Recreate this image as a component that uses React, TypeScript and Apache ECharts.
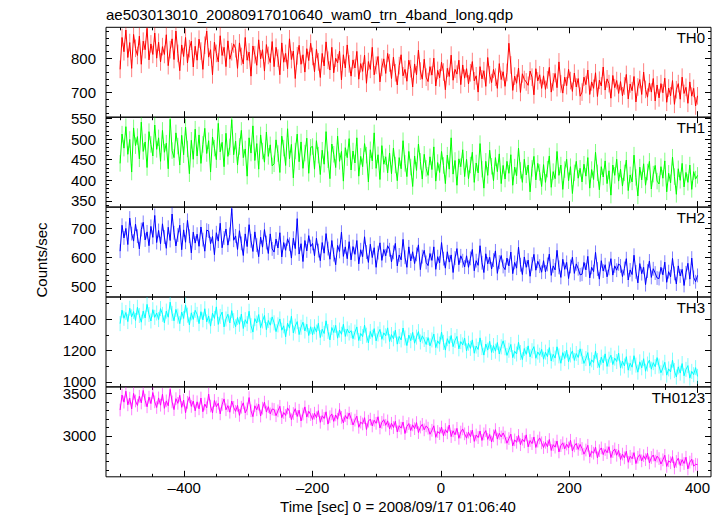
import React, { useEffect, useRef } from "react";
import * as echarts from "echarts";

const TITLE = "ae503013010_20080917010640_wam0_trn_4band_long.qdp";
const X_NAME = "Time [sec] 0 = 2008/09/17 01:06:40";
const Y_NAME = "Counts/sec";
const TIME_START = -500;
const TIME_STEP = 3;
const X_MIN = -522;
const X_MAX = 421;
const X_MAJOR = [-400, -200, 0, 200, 400];
const X_MINOR = [-500, -450, -350, -300, -250, -150, -100, -50, 50, 100, 150, 250, 300, 350];

const BANDS = ["TH0", "TH1", "TH2", "TH3", "TH0123"];
const COLORS = ["#ff0000", "#00ff00", "#0000ff", "#00ffff", "#ff00ff"];
// estimated size of the (lighter) error bars, counts/sec
const ERRORS = [26, 20, 24, 48, 75];
const Y_RANGES = [[627, 892], [335, 553], [463, 775], [968, 1542], [2517, 3578]];
const Y_MAJOR = [[700, 800], [350, 400, 450, 500, 550], [500, 600, 700], [1000, 1200, 1400], [3000, 3500]];
const Y_MINOR = [
  [640, 660, 680, 720, 740, 760, 780, 820, 840, 860, 880],
  [340, 360, 370, 380, 390, 410, 420, 430, 440, 460, 470, 480, 490, 510, 520, 530, 540],
  [480, 520, 540, 560, 580, 620, 640, 660, 680, 720, 740, 760],
  [1100, 1300, 1500],
  [2600, 2700, 2800, 2900, 3100, 3200, 3300, 3400],
];

const TH0 = [
  768, 862, 820, 884, 803, 847, 771, 871, 830, 809, 866, 783, 851, 826, 889, 796, 843, 812, 875, 801,
  848, 790, 835, 812, 870, 779, 826, 858, 797, 881, 815, 764, 840, 806, 862, 787, 829, 851, 775, 836,
  795, 857, 822, 768, 839, 881, 804, 826, 752, 848, 815, 790, 867, 809, 833, 776, 852, 798, 820, 843,
  829, 771, 846, 806, 784, 862, 795, 819, 748, 837, 811, 780, 855, 799, 826, 763, 841, 809, 788, 850,
  776, 833, 801, 752, 846, 789, 815, 770, 858, 797, 822, 741, 808, 839, 783, 811, 760, 829, 794, 845,
  806, 761, 827, 790, 744, 815, 778, 849, 795, 766, 833, 758, 801, 787, 822, 737, 811, 772, 840, 784,
  748, 796, 772, 821, 739, 785, 762, 810, 727, 791, 768, 833, 752, 780, 806, 731, 774, 799, 756, 815,
  787, 741, 804, 758, 722, 779, 811, 749, 768, 733, 795, 770, 716, 784, 752, 825, 763, 739, 798, 745,
  732, 776, 751, 801, 719, 765, 743, 789, 760, 708, 771, 747, 810, 736, 768, 754, 795, 723, 781, 742,
  770, 725, 758, 791, 734, 749, 701, 776, 740, 764, 718, 803, 752, 729, 768, 745, 712, 785, 738, 761,
  718, 759, 845, 781, 706, 748, 727, 772, 700, 755, 738, 731, 721, 763, 745, 693, 770, 734, 752, 712,
  749, 709, 737, 774, 701, 731, 756, 714, 790, 725, 698, 745, 720, 768, 735, 703, 757, 716, 741, 689,
  701, 745, 723, 766, 694, 731, 712, 758, 688, 736, 719, 775, 707, 740, 726, 683, 750, 714, 735, 697,
  732, 690, 719, 753, 681, 725, 705, 747, 672, 716, 738, 694, 760, 709, 686, 728, 701, 741, 675, 722,
  684, 726, 699, 742, 671, 713, 690, 735, 665, 708, 726, 680, 745, 697, 715, 668, 731, 689, 712, 660,
  690,
];
const TH1 = [
  441, 512, 478, 530, 463, 499, 420, 527, 484, 506, 452, 541, 470, 493, 431, 518, 487, 459, 534, 475,
  503, 446, 521, 468, 490, 428, 548, 472, 455, 515, 483, 437, 509, 462, 529, 476, 416, 497, 451, 524,
  459, 510, 441, 487, 526, 465, 496, 420, 505, 478, 450, 538, 469, 492, 433, 514, 458, 481, 547, 462,
  495, 437, 482, 521, 455, 476, 410, 503, 466, 532, 448, 489, 427, 510, 471, 444, 517, 458, 486, 435,
  440, 498, 465, 419, 507, 478, 436, 525, 452, 487, 406, 471, 512, 445, 493, 429, 466, 502, 417, 480,
  482, 427, 496, 461, 414, 473, 439, 518, 450, 404, 488, 463, 431, 507, 446, 470, 398, 479, 455, 501,
  425, 471, 442, 503, 410, 458, 433, 489, 461, 396, 474, 447, 515, 429, 462, 402, 484, 439, 457, 418,
  466, 416, 478, 437, 399, 455, 428, 496, 441, 409, 470, 432, 385, 459, 424, 488, 446, 403, 463, 429,
  412, 457, 426, 481, 398, 443, 419, 470, 436, 392, 461, 427, 503, 415, 448, 388, 452, 433, 474, 409,
  451, 404, 437, 468, 395, 442, 418, 489, 427, 381, 446, 412, 473, 434, 399, 455, 421, 464, 392, 436,
  403, 446, 417, 462, 388, 432, 411, 478, 424, 395, 451, 413, 437, 372, 429, 458, 401, 441, 419, 385,
  438, 395, 427, 459, 383, 421, 404, 470, 412, 437, 378, 426, 451, 399, 433, 368, 418, 446, 405, 429,
  396, 439, 410, 455, 381, 426, 402, 468, 418, 377, 433, 408, 447, 392, 423, 364, 437, 412, 451, 398,
  427, 386, 418, 449, 375, 413, 396, 461, 407, 362, 432, 401, 440, 388, 420, 446, 379, 415, 436, 398,
  391, 433, 405, 447, 372, 417, 394, 456, 409, 366, 428, 400, 441, 384, 419, 395, 437, 378, 421, 403,
  412,
];
const TH2 = [
  622, 712, 668, 701, 645, 737, 683, 657, 716, 674, 630, 697, 722, 661, 689, 641, 708, 670, 746, 652,
  694, 648, 717, 671, 632, 705, 659, 751, 686, 640, 678, 712, 627, 696, 653, 729, 674, 616, 688, 650,
  681, 639, 706, 662, 622, 695, 692, 648, 673, 610, 686, 657, 719, 634, 668, 699, 643, 680, 770, 660,
  675, 628, 693, 649, 607, 682, 638, 714, 658, 621, 689, 643, 603, 671, 636, 697, 652, 614, 682, 630,
  619, 664, 633, 686, 602, 652, 625, 665, 646, 598, 667, 631, 735, 612, 648, 586, 659, 623, 676, 638,
  649, 606, 667, 624, 589, 652, 615, 683, 631, 594, 659, 610, 575, 642, 621, 688, 604, 637, 596, 655,
  592, 638, 611, 659, 578, 627, 603, 672, 619, 583, 646, 600, 634, 566, 617, 651, 590, 628, 606, 641,
  627, 585, 618, 649, 571, 609, 592, 663, 601, 566, 637, 588, 620, 579, 611, 644, 558, 603, 625, 583,
  572, 614, 590, 637, 559, 603, 581, 652, 596, 563, 620, 584, 609, 548, 598, 631, 575, 606, 589, 567,
  606, 566, 597, 628, 554, 589, 573, 641, 582, 548, 613, 578, 601, 560, 591, 623, 545, 584, 607, 569,
  558, 598, 571, 619, 544, 583, 563, 636, 575, 541, 602, 566, 591, 535, 578, 611, 556, 587, 570, 549,
  589, 550, 576, 612, 538, 571, 557, 625, 566, 531, 594, 559, 583, 527, 569, 601, 545, 578, 561, 540,
  542, 583, 557, 604, 529, 566, 551, 618, 560, 525, 589, 553, 575, 533, 562, 596, 539, 571, 556, 578,
  571, 534, 562, 596, 522, 557, 541, 608, 550, 512, 579, 544, 566, 506, 553, 588, 531, 561, 546, 529,
  527, 566, 540, 584, 514, 551, 533, 597, 545, 508, 571, 536, 559, 503, 547, 580, 525, 598, 531, 516,
  538,
];
const TH3 = [
  1372, 1458, 1406, 1443, 1385, 1470, 1415, 1449, 1392, 1476, 1424, 1381, 1452, 1408, 1495, 1430, 1389, 1461, 1412, 1440,
  1398, 1468, 1431, 1377, 1452, 1413, 1509, 1437, 1390, 1463, 1420, 1372, 1446, 1405, 1491, 1426, 1364, 1441, 1399, 1457,
  1431, 1372, 1448, 1396, 1467, 1383, 1421, 1356, 1439, 1405, 1479, 1367, 1418, 1446, 1351, 1402, 1432, 1376, 1455, 1391,
  1352, 1411, 1368, 1433, 1341, 1397, 1372, 1451, 1359, 1318, 1404, 1376, 1430, 1346, 1389, 1424, 1333, 1392, 1362, 1415,
  1377, 1321, 1364, 1402, 1330, 1358, 1288, 1375, 1343, 1419, 1312, 1356, 1385, 1302, 1349, 1381, 1325, 1368, 1296, 1352,
  1301, 1352, 1318, 1374, 1283, 1336, 1309, 1390, 1322, 1268, 1347, 1315, 1361, 1279, 1331, 1304, 1368, 1290, 1338, 1312,
  1327, 1276, 1318, 1351, 1264, 1309, 1289, 1362, 1298, 1249, 1322, 1285, 1340, 1262, 1306, 1335, 1272, 1313, 1294, 1345,
  1258, 1302, 1275, 1330, 1241, 1290, 1268, 1344, 1281, 1232, 1299, 1263, 1316, 1247, 1286, 1321, 1255, 1294, 1271, 1239,
  1283, 1230, 1268, 1305, 1219, 1262, 1241, 1318, 1252, 1203, 1276, 1244, 1296, 1225, 1265, 1290, 1211, 1257, 1236, 1279,
  1198, 1247, 1214, 1268, 1183, 1229, 1207, 1281, 1219, 1171, 1242, 1203, 1259, 1188, 1232, 1196, 1251, 1178, 1224, 1262,
  1218, 1169, 1202, 1239, 1155, 1196, 1178, 1253, 1187, 1142, 1213, 1176, 1230, 1160, 1199, 1225, 1151, 1191, 1170, 1208,
  1145, 1190, 1161, 1219, 1133, 1176, 1152, 1224, 1166, 1119, 1187, 1149, 1203, 1128, 1172, 1198, 1137, 1181, 1156, 1211,
  1163, 1118, 1149, 1187, 1103, 1141, 1124, 1196, 1136, 1092, 1158, 1121, 1179, 1099, 1145, 1170, 1111, 1152, 1130, 1184,
  1088, 1133, 1102, 1161, 1075, 1119, 1094, 1167, 1107, 1062, 1128, 1090, 1148, 1068, 1114, 1139, 1081, 1123, 1097, 1155,
  1101, 1058, 1089, 1125, 1043, 1083, 1064, 1139, 1072, 1031, 1096, 1056, 1117, 1039, 1080, 1104, 1024, 1067, 1046, 1091,
  1035,
];
const TH0123 = [
  3305, 3482, 3398, 3527, 3366, 3445, 3318, 3501, 3412, 3359, 3468, 3389, 3536, 3420, 3343, 3457, 3381, 3512, 3402, 3335,
  3448, 3362, 3491, 3325, 3413, 3355, 3549, 3401, 3310, 3439, 3384, 3478, 3337, 3422, 3272, 3396, 3461, 3348, 3411, 3296,
  3402, 3319, 3447, 3285, 3376, 3331, 3494, 3352, 3271, 3418, 3343, 3385, 3260, 3370, 3436, 3308, 3357, 3279, 3411, 3336,
  3289, 3361, 3242, 3338, 3390, 3271, 3319, 3452, 3296, 3227, 3355, 3308, 3374, 3234, 3327, 3398, 3281, 3345, 3259, 3317,
  3312, 3238, 3295, 3349, 3215, 3276, 3241, 3330, 3288, 3190, 3264, 3321, 3229, 3303, 3176, 3258, 3342, 3222, 3291, 3251,
  3193, 3268, 3214, 3297, 3160, 3238, 3205, 3284, 3139, 3226, 3259, 3171, 3247, 3196, 3312, 3218, 3152, 3240, 3201, 3270,
  3204, 3128, 3186, 3233, 3101, 3162, 3141, 3215, 3075, 3174, 3198, 3117, 3185, 3148, 3226, 3093, 3160, 3191, 3125, 3177,
  3082, 3149, 3098, 3172, 3047, 3120, 3091, 3163, 3028, 3111, 3145, 3063, 3130, 3085, 3157, 3039, 3104, 3136, 3071, 3118,
  3091, 3019, 3066, 3119, 2983, 3052, 3027, 3104, 3001, 3075, 3036, 3128, 2992, 3060, 3013, 3089, 2971, 3045, 3082, 3024,
  2973, 3044, 2991, 3068, 2935, 3011, 2980, 3057, 2946, 3023, 3062, 2958, 3017, 2928, 3001, 3074, 2962, 3030, 2987, 3035,
  2985, 2913, 2968, 3020, 2882, 2953, 2924, 3005, 2896, 2961, 2930, 3012, 2871, 2945, 2909, 2987, 2863, 2938, 2976, 2918,
  2862, 2924, 2871, 2957, 2828, 2896, 2867, 2939, 2810, 2885, 2918, 2846, 2903, 2857, 2948, 2822, 2882, 2911, 2840, 2899,
  2851, 2784, 2833, 2889, 2752, 2818, 2796, 2867, 2740, 2825, 2858, 2779, 2839, 2801, 2872, 2744, 2815, 2846, 2771, 2829,
  2721, 2785, 2740, 2818, 2688, 2759, 2730, 2802, 2673, 2748, 2779, 2705, 2766, 2719, 2796, 2681, 2745, 2774, 2702, 2761,
  2732, 2668, 2717, 2771, 2639, 2706, 2683, 2755, 2622, 2698, 2737, 2651, 2719, 2674, 2748, 2610, 2690, 2725, 2643, 2665,
  2660,
];
const SERIES = [TH0, TH1, TH2, TH3, TH0123];

const FONT = "'Liberation Sans', Arial, Helvetica, sans-serif";
const W = 724;
const H = 516;
const LEFT = 106;
const RIGHT = 711;
const TOP = 27.3;
const PANEL_H = 89.9;

export default function App() {
  const ref = useRef<HTMLDivElement>(null);
  useEffect(() => {
    if (!ref.current) return;
    const chart = echarts.init(ref.current, undefined, { renderer: "svg" });
    const n = BANDS.length;
    const grids: any[] = [];
    const xAxes: any[] = [];
    const yAxes: any[] = [];
    const series: any[] = [];
    const graphics: any[] = [];
    const tickStyle = { color: "#000", width: 1 };
    for (let i = 0; i < n; i++) {
      grids.push({
        left: LEFT,
        width: RIGHT - LEFT,
        top: TOP + i * PANEL_H,
        height: PANEL_H,
        show: true,
        borderColor: "#000",
        borderWidth: 1,
        backgroundColor: "transparent",
      });
      const isLast = i === n - 1;
      const xBase = {
        type: "value",
        gridIndex: i,
        min: X_MIN,
        max: X_MAX,
        splitLine: { show: false },
        axisLine: { show: false, onZero: false },
      };
      xAxes.push({
        ...xBase,
        position: "bottom",
        axisTick: { show: true, inside: true, length: 6, lineStyle: tickStyle, customValues: X_MAJOR },
        axisLabel: {
          show: isLast,
          customValues: X_MAJOR,
          color: "#000",
          fontSize: 15,
          fontFamily: FONT,
          margin: 3,
          formatter: (v: number) => (v < 0 ? "\u2013" + Math.abs(v) : String(v)),
        },
      });
      xAxes.push({
        ...xBase,
        position: "bottom",
        axisTick: { show: true, inside: true, length: 3, lineStyle: tickStyle, customValues: X_MINOR },
        axisLabel: { show: false },
      });
      xAxes.push({
        ...xBase,
        position: "top",
        axisTick: { show: true, inside: true, length: 6, lineStyle: tickStyle, customValues: X_MAJOR },
        axisLabel: { show: false },
      });
      xAxes.push({
        ...xBase,
        position: "top",
        axisTick: { show: true, inside: true, length: 3, lineStyle: tickStyle, customValues: X_MINOR },
        axisLabel: { show: false },
      });
      const yBase = {
        type: "value",
        gridIndex: i,
        min: Y_RANGES[i][0],
        max: Y_RANGES[i][1],
        splitLine: { show: false },
        axisLine: { show: false, onZero: false },
      };
      yAxes.push({
        ...yBase,
        position: "left",
        axisTick: { show: true, inside: true, length: 6, lineStyle: tickStyle, customValues: Y_MAJOR[i] },
        axisLabel: {
          show: true,
          customValues: Y_MAJOR[i],
          color: "#000",
          fontSize: 15,
          fontFamily: FONT,
          margin: 10,
          formatter: (v: number) => String(v),
        },
      });
      yAxes.push({
        ...yBase,
        position: "left",
        axisTick: { show: true, inside: true, length: 3, lineStyle: tickStyle, customValues: Y_MINOR[i] },
        axisLabel: { show: false },
      });
      yAxes.push({
        ...yBase,
        position: "right",
        axisTick: { show: true, inside: true, length: 6, lineStyle: tickStyle, customValues: Y_MAJOR[i] },
        axisLabel: { show: false },
      });
      yAxes.push({
        ...yBase,
        position: "right",
        axisTick: { show: true, inside: true, length: 3, lineStyle: tickStyle, customValues: Y_MINOR[i] },
        axisLabel: { show: false },
      });
      const vals = SERIES[i];
      const color = COLORS[i];
      series.push({
        type: "custom",
        name: BANDS[i] + " err",
        xAxisIndex: i * 4,
        yAxisIndex: i * 4,
        clip: true,
        silent: true,
        data: vals.map((v, k) => [TIME_START + k * TIME_STEP, v, ERRORS[i]]),
        encode: { x: 0, y: 1 },
        renderItem: (params: any, api: any) => {
          const x = api.value(0);
          const y = api.value(1);
          const e = api.value(2);
          const p1 = api.coord([x, y - e]);
          const p2 = api.coord([x, y + e]);
          return {
            type: "line",
            shape: { x1: p1[0], y1: p1[1], x2: p2[0], y2: p2[1] },
            style: { stroke: color, lineWidth: 1, opacity: 0.5 },
          };
        },
      });
      series.push({
        type: "line",
        name: BANDS[i],
        xAxisIndex: i * 4,
        yAxisIndex: i * 4,
        data: vals.map((v, k) => [TIME_START + k * TIME_STEP, v]),
        showSymbol: false,
        symbol: "none",
        clip: true,
        lineStyle: { color, width: 1 },
        itemStyle: { color },
      });
      graphics.push({
        type: "text",
        right: W - 705,
        top: TOP + i * PANEL_H + 3,
        style: { text: BANDS[i], fill: "#000", font: `15px ${FONT}` },
      });
    }
    graphics.push({
      type: "text",
      left: LEFT,
      top: 7,
      style: { text: TITLE, fill: "#000", font: `15px ${FONT}` },
    });
    graphics.push({
      type: "text",
      x: 41.5,
      y: 260,
      rotation: Math.PI / 2,
      style: { text: Y_NAME, fill: "#000", font: `15px ${FONT}`, align: "center", verticalAlign: "middle" },
    });
    graphics.push({
      type: "text",
      x: 398,
      y: 506,
      style: { text: X_NAME, fill: "#000", font: `15px ${FONT}`, align: "center", verticalAlign: "middle" },
    });
    chart.setOption({
      animation: false,
      backgroundColor: "#fff",
      grid: grids,
      xAxis: xAxes,
      yAxis: yAxes,
      series,
      graphic: graphics,
    });
    return () => chart.dispose();
  }, []);
  return <div ref={ref} style={{ width: W, height: H, position: "absolute", left: 0, top: 0 }} />;
}
